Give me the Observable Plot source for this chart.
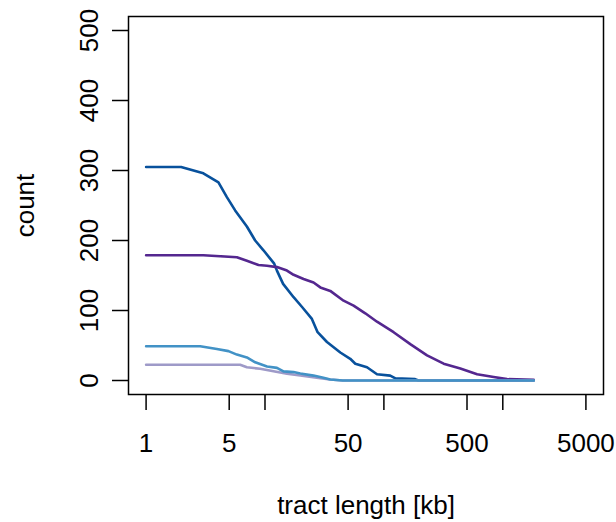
<!DOCTYPE html>
<html>
<head>
<meta charset="utf-8">
<script src="https://cdn.jsdelivr.net/npm/d3@7"></script>
<script src="https://cdn.jsdelivr.net/npm/@observablehq/plot@0.6"></script>
<style>
  html, body { margin: 0; padding: 0; background: #fff; }
  #chart { width: 616px; height: 522px; }
</style>
</head>
<body>
<div id="chart"></div>
<script>
// Survival-style curves: number of tracts at least a given length (kb).
const lengthA = [1, 1.97, 3.03, 4.06, 4.78, 5.61, 7.04, 8.27, 9.71, 11.95, 12.6, 14.2, 17.4, 20.5, 24.8, 27.7, 33.2, 43.0, 52.1, 57.5, 72.1, 87.5, 113, 125, 183, 195, 1820];
const countA  = [305, 305, 296, 283, 262, 243, 220, 200, 186, 167, 157, 138, 119, 105, 88, 69, 55, 40, 31, 24, 19, 9, 7, 3, 2, 0, 0];

const lengthB = [1, 3.03, 5.8, 7.04, 8.82, 10.4, 12.6, 15.3, 17.4, 21.1, 25.6, 29.2, 35.4, 45.8, 55.6, 69.7, 87.5, 120.7, 166.7, 230.6, 318, 439.5, 608, 838, 1086, 1820];
const countB  = [179, 179, 176, 171, 165, 164, 162, 157, 151, 145, 140, 133, 128, 114, 107, 96, 84, 69, 52, 36, 24, 17, 9, 5, 2, 1];

const lengthC = [1, 2.85, 3.94, 4.93, 5.8, 7.04, 8.27, 10.4, 12.6, 14.3, 17.4, 19.8, 25.6, 31, 35.4, 45, 1820];
const countC  = [49, 49, 45, 42, 37, 33, 26, 20, 18, 13, 12, 10, 7, 4, 1.5, 0, 0];

const lengthD = [1, 6.18, 7.04, 9.1, 11.8, 15.3, 19.8, 29.2, 35.4, 45, 1820];
const countD  = [22.5, 22.5, 19, 16.7, 13.3, 9.6, 7.1, 3.3, 1.4, 0, 0];

const seriesColors = ["#08519C", "#54278F", "#9E9AC8", "#4292C6"];

const xTicks = [1, 5, 10, 50, 100, 500, 1000, 5000];
const xLabelled = [1, 5, 50, 500, 5000];
const yTicks = [0, 100, 200, 300, 400, 500];

const toRows = (xs, ys) => xs.map((x, i) => ({x, y: ys[i]}));
const curves = [
  toRows(lengthA, countA),
  toRows(lengthB, countB),
  toRows(lengthD, countD),
  toRows(lengthC, countC)
];

// R-style 4% padding around xlim = [1, 5000] (log) and ylim = [0, 500]
const lx0 = Math.log10(1), lx1 = Math.log10(5000), pad = (lx1 - lx0) * 0.04;
const xDomain = [10 ** (lx0 - pad), 10 ** (lx1 + pad)];
const yDomain = [-20, 520];

const font = "'Liberation Sans', Arial, Helvetica, sans-serif";
const fs = 26;

const chart = Plot.plot({
  width: 616,
  height: 522,
  marginLeft: 128,
  marginRight: 13,
  marginTop: 16,
  marginBottom: 128,
  style: {fontFamily: font, fontSize: fs + "px", color: "#000", background: "#fff"},
  x: {type: "log", domain: xDomain, label: null},
  y: {domain: yDomain, label: null},
  marks: [
    ...curves.map((rows, i) =>
      Plot.line(rows, {x: "x", y: "y", stroke: seriesColors[i], strokeWidth: 2.6})
    ),
    Plot.frame({stroke: "#000", strokeWidth: 1.5}),
    Plot.axisX(xTicks, {tickSize: 16, strokeWidth: 1.5, tickFormat: () => "", label: null}),
    Plot.text(xLabelled, {
      x: d => d, text: d => String(d), frameAnchor: "bottom", dy: 39,
      lineAnchor: "top", fontSize: fs
    }),
    Plot.axisY(yTicks, {tickSize: 16, strokeWidth: 1.5, tickFormat: () => "", label: null}),
    Plot.text(yTicks, {
      y: d => d, text: d => String(d), frameAnchor: "left", dx: -31,
      rotate: -90, textAnchor: "middle", lineAnchor: "bottom", fontSize: fs
    }),
    Plot.text(["tract length [kb]"], {
      frameAnchor: "bottom", dy: 119, lineAnchor: "bottom", fontSize: fs
    }),
    Plot.text(["count"], {
      frameAnchor: "left", dx: -95, rotate: -90, textAnchor: "middle",
      lineAnchor: "bottom", fontSize: fs
    })
  ]
});

document.getElementById("chart").appendChild(chart);
</script>
</body>
</html>
